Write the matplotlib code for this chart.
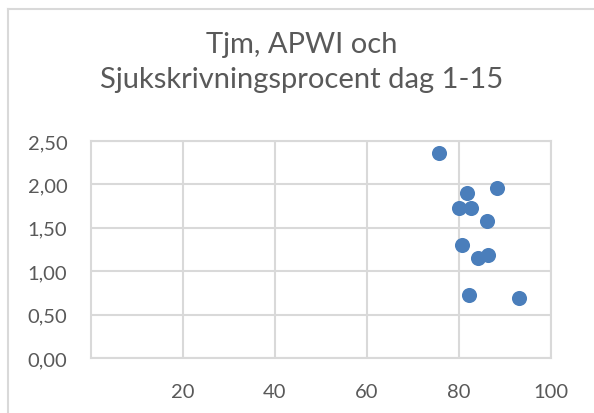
import matplotlib
matplotlib.use("Agg")
import matplotlib.pyplot as plt
from matplotlib.lines import Line2D
from matplotlib.ticker import FuncFormatter

# data
x_vals = [75.7, 88.3, 81.7, 79.9, 82.7, 86.1, 80.7, 84.1, 86.4, 82.2, 93.0]
y_vals = [2.36, 1.96, 1.90, 1.73, 1.73, 1.58, 1.30, 1.15, 1.19, 0.73, 0.69]
x_ticks = [20, 40, 60, 80, 100]
y_ticks = [0.0, 0.5, 1.0, 1.5, 2.0, 2.5]
title_lines = ["Tjm, APWI och", "Sjukskrivningsprocent dag 1-15"]

plt.rcParams['font.family'] = ['Lato', 'DejaVu Sans']
grey = '#595959'
gridc = '#D9D9D9'

fig = plt.figure(figsize=(5.94, 4.14), dpi=100)
ax = fig.add_axes([91 / 594, 1 - 359 / 414, 460 / 594, 217 / 414])

ax.scatter(x_vals, y_vals, s=118, color='#4A7EBB', zorder=3, linewidths=0)

ax.set_xlim(0, 100)
ax.set_ylim(0, 2.5)
ax.set_xticks(x_ticks)
ax.set_yticks(y_ticks)
ax.yaxis.set_major_formatter(FuncFormatter(lambda v, p: f"{v:.2f}".replace('.', ',')))
ax.tick_params(length=0, labelsize=14.5, colors=grey)
ax.tick_params(axis='y', pad=17)
ax.tick_params(axis='x', pad=18)
ax.grid(True, color=gridc, linewidth=1.5)
ax.set_axisbelow(True)
for s in ax.spines.values():
    s.set_color(gridc)
    s.set_linewidth(1.5)

# title, one line at a time at the reference baselines
for line, base in zip(title_lines, [53, 88]):
    fig.text(302 / 594, 1 - base / 414, line, ha='center', va='baseline',
             fontsize=21, color=grey)

# chart area border (cropped at right and bottom)
fig.add_artist(Line2D([8 / 594, 8 / 594], [0, 1 - 10 / 414], color=gridc, lw=1.5))
fig.add_artist(Line2D([8 / 594, 1], [1 - 10 / 414, 1 - 10 / 414], color=gridc, lw=1.5))

fig.savefig("out.png", dpi=100)
